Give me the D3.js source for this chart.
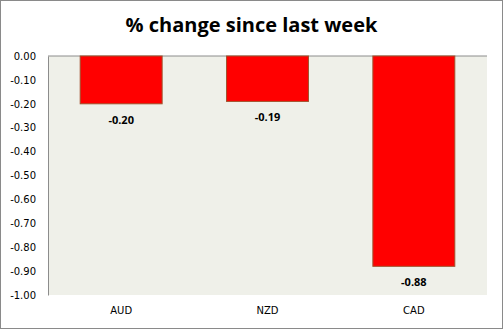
<!DOCTYPE html>
<html><head><meta charset="utf-8">
<script src="https://cdn.jsdelivr.net/npm/d3@7"></script>
<style>body{margin:0;background:#fff}svg{display:block}</style>
</head><body>
<script>
const categories = ["AUD", "NZD", "CAD"];
const values = [-0.20, -0.19, -0.88];
const tickValues = [0, -0.1, -0.2, -0.3, -0.4, -0.5, -0.6, -0.7, -0.8, -0.9, -1.0];
const title = "% change since last week";

const W = 503, H = 329;
const m = {left: 48, right: 16, top: 56, bottom: 34};
const fmt = d => d3.format(".2f")(d).replace("\u2212", "-");
const svg = d3.select("body").append("svg").attr("width", W).attr("height", H);
svg.append("rect").attr("x", 0.5).attr("y", 0.5).attr("width", W - 1).attr("height", H - 1)
  .attr("fill", "#fff").attr("stroke", "#8a8a8a");

const x = d3.scaleBand().domain(categories).range([m.left, W - m.right]).paddingInner(0.44).paddingOuter(0.22);
const y = d3.scaleLinear().domain([-1, 0]).range([H - m.bottom, m.top]);

svg.append("rect").attr("x", m.left).attr("y", m.top).attr("width", W - m.right - m.left)
  .attr("height", H - m.bottom - m.top).attr("fill", "#eff0e9");

svg.append("text").attr("x", W / 2).attr("y", 32).attr("text-anchor", "middle")
  .attr("font-family", "Open Sans, sans-serif").attr("font-weight", "bold").attr("font-size", 20)
  .attr("fill", "#000").text(title);

const yAxis = d3.axisLeft(y).tickValues(tickValues).tickSize(0).tickPadding(12).tickFormat(fmt);
const gy = svg.append("g").attr("transform", `translate(${m.left},0)`).call(yAxis);
gy.select(".domain").attr("stroke", "#8c8c8c");
gy.selectAll("text").attr("font-family", "DejaVu Sans, Verdana, sans-serif").attr("font-size", 10).attr("fill", "#000");

svg.append("line").attr("x1", m.left).attr("x2", W - m.right).attr("y1", y(0)).attr("y2", y(0)).attr("stroke", "#8c8c8c");

svg.selectAll("rect.bar").data(values).join("rect").attr("class", "bar")
  .attr("x", (d, i) => x(categories[i])).attr("width", x.bandwidth())
  .attr("y", y(0)).attr("height", d => y(d) - y(0))
  .attr("fill", "#ff0000").attr("stroke", "#a0522d").attr("stroke-width", 1);

svg.selectAll("text.val").data(values).join("text").attr("class", "val")
  .attr("x", (d, i) => x(categories[i]) + x.bandwidth() / 2).attr("y", d => y(d) + 20)
  .attr("text-anchor", "middle").attr("font-family", "Open Sans, sans-serif").attr("font-weight", "bold")
  .attr("font-size", 11).attr("fill", "#000").text(fmt);

const xAxis = d3.axisBottom(x).tickSize(0).tickPadding(12);
const gx = svg.append("g").attr("transform", `translate(0,${H - m.bottom})`).call(xAxis);
gx.select(".domain").remove();
gx.selectAll("text").attr("font-family", "DejaVu Sans, Verdana, sans-serif").attr("font-size", 10).attr("fill", "#000");
</script>
</body></html>
